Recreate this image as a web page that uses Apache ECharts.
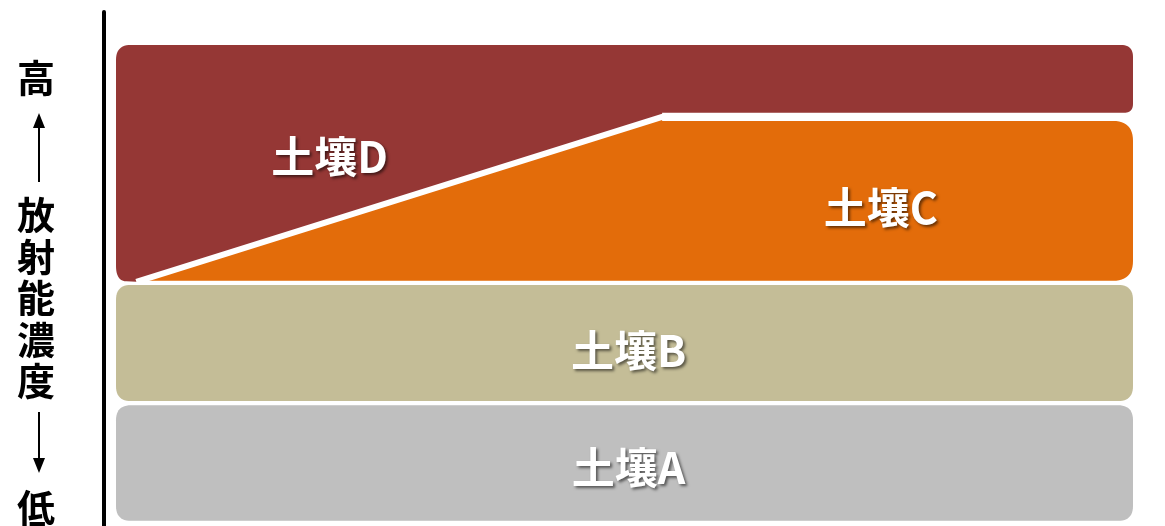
<!DOCTYPE html>
<html>
<head>
<meta charset="utf-8">
<script src="https://cdn.jsdelivr.net/npm/echarts@6/dist/echarts.min.js"></script>
<style>
  html, body { margin: 0; padding: 0; background: #fff; }
  #chart { width: 1165px; height: 526px; }
</style>
</head>
<body>
<div id="chart"></div>
<script>
// Soil layers, ordered from low to high activity concentration
const soils = ['土壤A', '土壤B', '土壤C', '土壤D'];
// Vertical extent of each layer on the concentration scale (0–100)
const layerLow = [1.0, 24.3, 47.7, 47.7];
const layerHigh = [23.5, 46.9, 78.8, 93.6];
// Sloped boundary separating 土壤C (below) from 土壤D (above)
const boundaryX = [2.0, 53.7, 100];
const boundaryY = [47.5, 79.6, 79.6];
// Where each layer's name sits
const labelX = [50.4, 50.4, 75.2, 21.0];
const labelY = [11.3, 34.2, 61.9, 71.8];
// Axis title pieces
const axisHigh = '高';
const axisLow = '低';
const axisTitle = ['放', '射', '能', '濃', '度'];

const layerColors = ['#BFBFBF', '#C4BD97', '#E36C0A', '#953735'];
const FONT = '"Noto Sans CJK JP", "Noto Sans CJK SC", sans-serif';

// Polygon outline with selected corners rounded (quadratic corner curves)
function roundPoly(pts, radii) {
  const out = [];
  const n = pts.length;
  for (let i = 0; i < n; i++) {
    const p = pts[i];
    const r = radii[i] || 0;
    if (!r) { out.push(p); continue; }
    const a = pts[(i - 1 + n) % n];
    const b = pts[(i + 1) % n];
    const da = Math.hypot(a[0] - p[0], a[1] - p[1]);
    const db = Math.hypot(b[0] - p[0], b[1] - p[1]);
    const ra = Math.min(r, da / 2);
    const rb = Math.min(r, db / 2);
    const s = [p[0] + (a[0] - p[0]) / da * ra, p[1] + (a[1] - p[1]) / da * ra];
    const e = [p[0] + (b[0] - p[0]) / db * rb, p[1] + (b[1] - p[1]) / db * rb];
    for (let k = 0; k <= 12; k++) {
      const t = k / 12, u = 1 - t;
      out.push([
        u * u * s[0] + 2 * u * t * p[0] + t * t * e[0],
        u * u * s[1] + 2 * u * t * p[1] + t * t * e[1]
      ]);
    }
  }
  return out;
}

function renderLayer(params, api) {
  const idx = api.value(0);
  const x0 = api.coord([0, 0])[0];
  const x1 = api.coord([100, 0])[0];
  const lowPy = api.coord([0, layerLow[idx]])[1];
  const highPy = api.coord([0, layerHigh[idx]])[1];
  let pts, radii;
  if (idx < 2) {
    pts = [[x0, lowPy], [x1, lowPy], [x1, highPy], [x0, highPy]];
    radii = [15, 15, 15, 15];
  } else {
    const b0 = api.coord([boundaryX[0], boundaryY[0]]);
    const b1 = api.coord([boundaryX[1], boundaryY[1]]);
    const cTop = api.coord([0, layerHigh[2]])[1];
    if (idx === 2) {
      pts = [b0, [b0[0], lowPy], [x1, lowPy], [x1, cTop], [b1[0], cTop], b1];
      radii = [0, 0, 20, 20, 0, 0];
    } else {
      const dBottom = 2 * b1[1] - cTop;
      pts = [[x0, highPy], [x1, highPy], [x1, dBottom], [b1[0], dBottom], b1, b0, [x0, lowPy]];
      radii = [15, 12, 9, 0, 0, 0, 15];
    }
  }
  return {
    type: 'polygon',
    shape: { points: roundPoly(pts, radii) },
    style: { fill: layerColors[idx] }
  };
}

const titleText = (txt, x, y) => ({
  type: 'text', x: x, y: y,
  style: {
    text: txt, fill: '#000', font: 'bold 38px ' + FONT,
    textAlign: 'center', textVerticalAlign: 'middle',
    align: 'center', verticalAlign: 'middle'
  }
});

const graphics = [titleText(axisHigh, 36, 78)];
axisTitle.forEach((ch, i) => graphics.push(titleText(ch, 36, 215 + i * 41.5)));
graphics.push(titleText(axisLow, 36, 508));
graphics.push(
  { type: 'polygon', shape: { points: [[39, 113], [33, 128], [45, 128]] }, style: { fill: '#000' } },
  { type: 'line', shape: { x1: 39, y1: 127, x2: 39, y2: 182 }, style: { stroke: '#000', lineWidth: 2 } },
  { type: 'line', shape: { x1: 39, y1: 412, x2: 39, y2: 459 }, style: { stroke: '#000', lineWidth: 2 } },
  { type: 'polygon', shape: { points: [[33, 458], [45, 458], [39, 473]] }, style: { fill: '#000' } }
);

const chart = echarts.init(document.getElementById('chart'), null, { renderer: 'canvas' });
chart.setOption({
  animation: false,
  backgroundColor: '#fff',
  grid: { left: 116, right: 32, top: 12, bottom: 0 },
  xAxis: { type: 'value', min: 0, max: 100, show: false },
  yAxis: {
    type: 'value', min: 0, max: 100, offset: 12,
    axisLine: { show: true, onZero: false, lineStyle: { color: '#000', width: 4 } },
    axisTick: { show: false }, axisLabel: { show: false }, splitLine: { show: false }
  },
  graphic: graphics,
  series: [
    {
      type: 'custom',
      silent: true,
      renderItem: renderLayer,
      data: soils.map((s, i) => [i, 0]),
      z: 1
    },
    {
      type: 'line',
      silent: true,
      symbol: 'none',
      data: boundaryX.map((x, i) => [x, boundaryY[i]]),
      lineStyle: { color: '#fff', width: 6 },
      z: 2
    },
    {
      type: 'scatter',
      silent: true,
      symbolSize: 0,
      itemStyle: { opacity: 1 },
      data: soils.map((s, i) => ({ name: s, value: [labelX[i], labelY[i]] })),
      label: {
        show: true, position: 'inside', formatter: '{b}', opacity: 1,
        color: '#ffffff', fontSize: 43, fontWeight: 'bold', fontFamily: FONT,
        textShadowColor: 'rgba(0,0,0,0.55)', textShadowBlur: 3,
        textShadowOffsetX: 2, textShadowOffsetY: 2
      },
      z: 3
    }
  ]
});
</script>
</body>
</html>
